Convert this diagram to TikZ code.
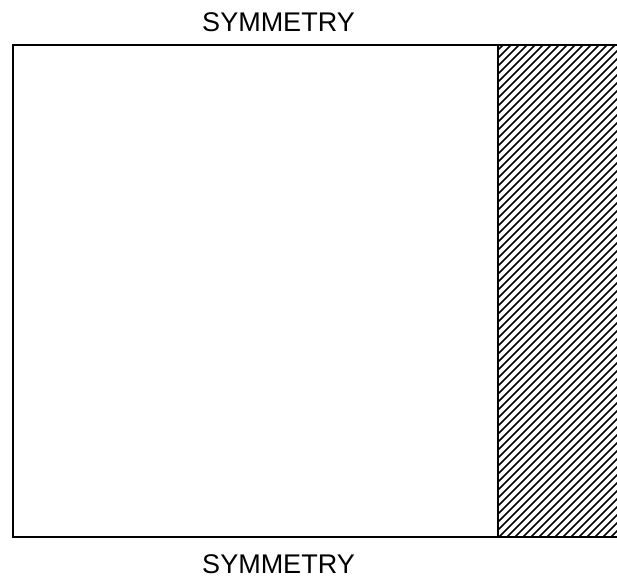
\documentclass[tikz,border=0pt]{standalone}
\usepackage{fontspec}
\setmainfont{Liberation Sans}
\begin{document}
\begin{tikzpicture}[x=1pt,y=-1pt,
  edge/.style={line width=2.8pt,line cap=rect},
  hatchline/.style={line width=1.6pt},
  label/.style={font=\fontsize{27}{30}\selectfont,inner sep=0pt}]
\useasboundingbox (0,0) rectangle (617,578);
\node[label,anchor=base] (top) at (278.5,31) {SYMMETRY};
\node[label,anchor=base] (bot) at (278.5,573) {SYMMETRY};
\begin{scope}
  \clip (498,45) rectangle (617,537);
  \foreach \c in {500,508,...,1180} {
    \draw[hatchline] (\c-45,45) -- (\c-537,537);
  }
\end{scope}
\draw[edge] (617,45) -- (13,45) -- (13,537) -- (617,537);
\draw[edge] (498,45) -- (498,537);
\end{tikzpicture}
\end{document}
